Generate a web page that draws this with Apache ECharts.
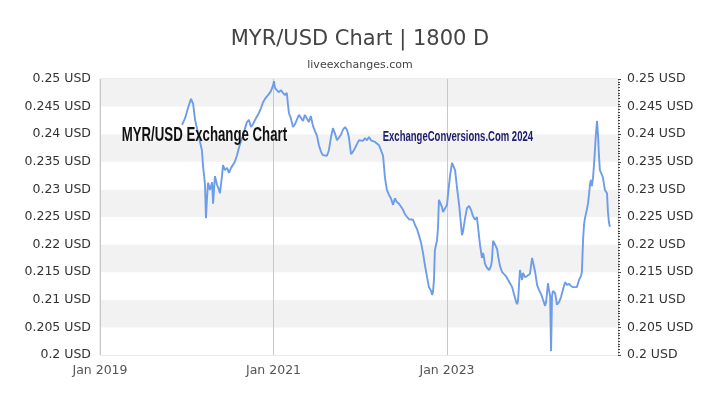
<!DOCTYPE html>
<html>
<head>
<meta charset="utf-8">
<script src="https://cdn.jsdelivr.net/npm/echarts@6/dist/echarts.min.js"></script>
<style>html,body{margin:0;padding:0;background:#fff}#c{width:720px;height:405px}</style>
</head>
<body>
<div id="c"></div>
<script>
const titleText = 'MYR/USD Chart | 1800 D';
const subtitleText = 'liveexchanges.com';
const watermark1 = 'MYR/USD Exchange Chart';
const watermark2 = 'ExchangeConversions.Com 2024';
const tickYears = [2019, 2021, 2023];
const yMin = 0.2, yMax = 0.25, yStep = 0.005;

const dates = [
'2019-12-12','2019-12-25','2020-01-06','2020-01-19','2020-01-28','2020-02-05','2020-02-13','2020-02-22','2020-02-26','2020-03-05',
'2020-03-10','2020-03-14','2020-03-18','2020-03-22','2020-03-26','2020-03-31','2020-04-08','2020-04-17','2020-04-21','2020-04-29',
'2020-05-08','2020-05-16','2020-05-20','2020-05-29','2020-06-02','2020-06-10','2020-06-19','2020-06-27','2020-07-06','2020-07-14',
'2020-07-22','2020-07-31','2020-08-08','2020-08-17','2020-08-25','2020-09-03','2020-09-11','2020-09-19','2020-09-28','2020-10-06',
'2020-10-19','2020-10-31','2020-11-09','2020-11-17','2020-11-26','2020-12-04','2020-12-13','2020-12-21','2020-12-29','2021-01-03',
'2021-01-07','2021-01-15','2021-01-24','2021-02-01','2021-02-10','2021-02-18','2021-02-26','2021-03-03','2021-03-07','2021-03-15',
'2021-03-24','2021-04-01','2021-04-09','2021-04-18','2021-04-26','2021-05-05','2021-05-13','2021-05-22','2021-05-30','2021-06-07',
'2021-06-16','2021-06-24','2021-07-03','2021-07-11','2021-07-20','2021-07-28','2021-08-05','2021-08-14','2021-08-22','2021-08-31',
'2021-09-08','2021-09-16','2021-09-25','2021-10-03','2021-10-12','2021-10-20','2021-10-29','2021-11-06','2021-11-14','2021-11-23',
'2021-12-01','2021-12-10','2021-12-18','2021-12-27','2022-01-04','2022-01-12','2022-01-21','2022-01-29','2022-02-07','2022-02-15',
'2022-02-23','2022-03-04','2022-03-12','2022-03-21','2022-03-29','2022-04-07','2022-04-15','2022-04-23','2022-05-02','2022-05-10',
'2022-05-19','2022-05-27','2022-06-04','2022-06-13','2022-06-21','2022-06-30','2022-07-08','2022-07-17','2022-07-25','2022-08-02',
'2022-08-11','2022-08-19','2022-08-28','2022-09-05','2022-09-14','2022-09-22','2022-09-30','2022-10-09','2022-10-17','2022-10-26',
'2022-10-30','2022-11-03','2022-11-07','2022-11-11','2022-11-20','2022-11-24','2022-11-28','2022-12-03','2022-12-11','2022-12-15',
'2022-12-24','2023-01-01','2023-01-05','2023-01-14','2023-01-22','2023-01-26','2023-01-30','2023-02-04','2023-02-12','2023-02-21',
'2023-03-01','2023-03-05','2023-03-09','2023-03-18','2023-03-26','2023-04-04','2023-04-12','2023-04-20','2023-04-29','2023-05-07',
'2023-05-12','2023-05-20','2023-05-28','2023-06-02','2023-06-10','2023-06-18','2023-06-27','2023-07-05','2023-07-09','2023-07-14',
'2023-07-22','2023-07-31','2023-08-04','2023-08-12','2023-08-21','2023-08-29','2023-09-06','2023-09-15','2023-09-23','2023-10-02',
'2023-10-10','2023-10-19','2023-10-23','2023-10-27','2023-11-04','2023-11-13','2023-11-17','2023-11-25','2023-12-04','2023-12-12',
'2023-12-16','2023-12-25','2023-12-29','2024-01-07','2024-01-15','2024-01-23','2024-02-01','2024-02-09','2024-02-18','2024-02-22',
'2024-03-01','2024-03-05','2024-03-10','2024-03-14','2024-03-18','2024-03-22','2024-03-31','2024-04-08','2024-04-17','2024-04-25',
'2024-05-03','2024-05-12','2024-05-20','2024-05-29','2024-06-06','2024-06-15','2024-06-23','2024-07-01','2024-07-10','2024-07-18',
'2024-07-22','2024-07-27','2024-07-31','2024-08-04','2024-08-12','2024-08-17','2024-08-21','2024-08-25','2024-08-29','2024-09-02',
'2024-09-07','2024-09-11','2024-09-15','2024-09-19','2024-09-24','2024-09-28','2024-10-02','2024-10-06','2024-10-15','2024-10-19',
'2024-10-27','2024-11-05','2024-11-09','2024-11-13','2024-11-17'
];

const rates = [
0.2417,0.2429,0.2447,0.2464,0.2455,0.2426,0.2411,0.2393,0.2386,0.2371,
0.2341,0.2326,0.2308,0.2248,0.2281,0.2312,0.2299,0.2313,0.2274,0.2324,
0.2308,0.2299,0.2293,0.2326,0.2344,0.2335,0.2339,0.2330,0.2339,0.2342,
0.2350,0.2362,0.2375,0.2388,0.2397,0.2411,0.2422,0.2426,0.2413,0.2418,
0.2429,0.2438,0.2447,0.2457,0.2464,0.2467,0.2473,0.2478,0.2487,0.2496,
0.2484,0.2480,0.2476,0.2480,0.2475,0.2471,0.2475,0.2453,0.2438,0.2429,
0.2413,0.2418,0.2426,0.2435,0.2433,0.2424,0.2435,0.2428,0.2422,0.2433,
0.2415,0.2406,0.2397,0.2380,0.2368,0.2362,0.2364,0.2361,0.2371,0.2395,
0.2411,0.2402,0.2389,0.2386,0.2399,0.2408,0.2413,0.2408,0.2395,0.2364,
0.2368,0.2375,0.2382,0.2389,0.2391,0.2388,0.2393,0.2389,0.2395,0.2389,
0.2391,0.2386,0.2384,0.2380,0.2371,0.2361,0.2321,0.2299,0.2290,0.2284,
0.2272,0.2284,0.2277,0.2274,0.2275,0.2263,0.2255,0.2250,0.2246,0.2248,
0.2245,0.2236,0.2228,0.2217,0.2203,0.2185,0.2163,0.2141,0.2123,0.2116,
0.2109,0.2114,0.2136,0.2190,0.2208,0.2230,0.2281,0.2284,0.2268,0.2259,
0.2266,0.2272,0.2290,0.2326,0.2348,0.2351,0.2346,0.2335,0.2303,0.2272,
0.2236,0.2217,0.2223,0.2248,0.2266,0.2270,0.2263,0.2252,0.2245,0.2250,
0.2230,0.2199,0.2176,0.2185,0.2165,0.2158,0.2154,0.2161,0.2172,0.2207,
0.2205,0.2192,0.2179,0.2161,0.2150,0.2148,0.2143,0.2136,0.2130,0.2123,
0.2110,0.2096,0.2092,0.2100,0.2154,0.2136,0.2149,0.2141,0.2143,0.2141,
0.2147,0.2176,0.2168,0.2150,0.2127,0.2118,0.2110,0.2100,0.2089,0.2096,
0.2130,0.2118,0.2107,0.2007,0.2107,0.2116,0.2112,0.2091,0.2096,0.2105,
0.2118,0.2132,0.2127,0.2129,0.2125,0.2123,0.2125,0.2123,0.2136,0.2143,
0.2150,0.2208,0.2236,0.2248,0.2263,0.2275,0.2290,0.2308,0.2317,0.2306,
0.2321,0.2344,0.2371,0.2399,0.2424,0.2399,0.2362,0.2335,0.2326,0.2321,
0.2299,0.2293,0.2259,0.2241,0.2232
];

function toYear(s) {
  const p = s.split('-').map(Number);
  const a = Date.UTC(p[0], 0, 1), b = Date.UTC(p[0] + 1, 0, 1);
  return p[0] + (Date.UTC(p[0], p[1] - 1, p[2]) - a) / (b - a);
}
const seriesData = dates.map((d, i) => [toYear(d), rates[i]]);

const yFmt = v => parseFloat(Number(v).toFixed(3)) + ' USD';
const xFmt = v => tickYears.indexOf(Math.round(v * 1000) / 1000) >= 0 ? 'Jan ' + Math.round(v) : '';

const chart = echarts.init(document.getElementById('c'), null, {renderer: 'canvas'});
chart.setOption({
  animation: false,
  backgroundColor: '#ffffff',
  textStyle: {fontFamily: 'DejaVu Sans'},
  grid: {left: 100, right: 102, top: 79, bottom: 50, show: true, borderColor: '#d6d6d6', borderWidth: 1},
  xAxis: {
    type: 'value', min: tickYears[0], max: 2024.971, interval: 2,
    axisLine: {show: false}, axisTick: {show: false},
    splitLine: {show: true, lineStyle: {color: '#c8c8c8', width: 1}},
    axisLabel: {formatter: xFmt, color: '#555', fontSize: 12.5, fontFamily: 'DejaVu Sans', margin: 9, showMaxLabel: false}
  },
  yAxis: [{
    type: 'value', min: yMin, max: yMax, interval: yStep, position: 'left',
    axisLine: {show: false}, axisTick: {show: false}, splitLine: {show: false},
    splitArea: {show: true, areaStyle: {color: ['#ffffff', '#f2f2f2']}},
    axisLabel: {formatter: yFmt, color: '#333', fontSize: 12.5, fontFamily: 'DejaVu Sans', margin: 9}
  }, {
    type: 'value', min: yMin, max: yMax, interval: yStep, position: 'right',
    axisLine: {show: false},
    axisTick: {show: true, length: 3, lineStyle: {color: '#444'}},
    minorTick: {show: true, splitNumber: 10, length: 2, lineStyle: {color: '#444'}},
    splitLine: {show: false},
    axisLabel: {formatter: yFmt, color: '#333', fontSize: 12.5, fontFamily: 'DejaVu Sans', margin: 9}
  }],
  series: [{
    type: 'line', yAxisIndex: 0, data: seriesData, showSymbol: false,
    lineStyle: {color: '#6d9de8', width: 1.9}, z: 3
  }],
  graphic: [
    {type: 'text', x: 360, y: 40, style: {text: titleText, align: 'center', verticalAlign: 'middle', fontFamily: 'DejaVu Sans', fontSize: 21, fill: '#444'}},
    {type: 'text', x: 360, y: 65, style: {text: subtitleText, align: 'center', verticalAlign: 'middle', fontFamily: 'DejaVu Sans', fontSize: 11, fill: '#444'}},
    {type: 'text', x: 121.7, y: 135, scaleX: 0.63, z: 100, style: {text: watermark1, align: 'left', verticalAlign: 'middle', fontFamily: 'Liberation Sans', fontWeight: 'bold', fontSize: 21, fill: '#111'}},
    {type: 'text', x: 382.7, y: 136.5, scaleX: 0.635, z: 100, style: {text: watermark2, align: 'left', verticalAlign: 'middle', fontFamily: 'Liberation Sans', fontWeight: 'bold', fontSize: 15, fill: '#1c1c6e'}}
  ]
});
</script>
</body>
</html>
